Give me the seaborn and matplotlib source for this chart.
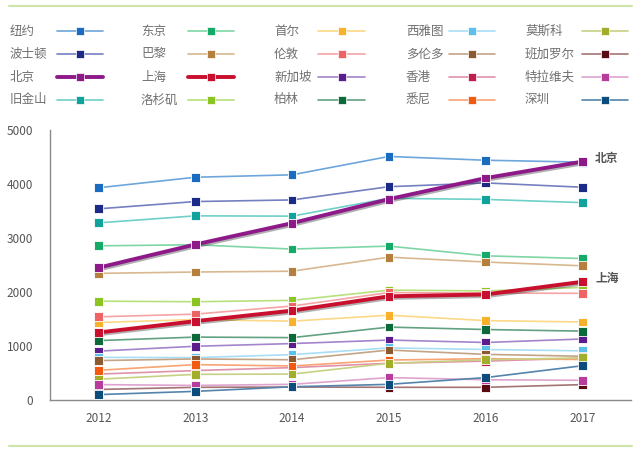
import numpy as np
import pandas as pd
import matplotlib
matplotlib.use("Agg")
import matplotlib.pyplot as plt
import seaborn as sns
from matplotlib.lines import Line2D
import matplotlib.patheffects as pe

years = ["2012", "2013", "2014", "2015", "2016", "2017"]

ny        = [3930, 4125, 4170, 4510, 4440, 4405]
boston    = [3540, 3675, 3705, 3950, 4020, 3940]
beijing   = [2450, 2880, 3275, 3720, 4110, 4415]
sf        = [3280, 3410, 3405, 3735, 3715, 3655]
tokyo     = [2855, 2875, 2795, 2850, 2670, 2620]
paris     = [2345, 2370, 2385, 2645, 2555, 2485]
shanghai  = [1250, 1460, 1655, 1920, 1955, 2190]
la        = [1830, 1820, 1845, 2035, 2020, 2085]
seoul     = [1435, 1490, 1460, 1570, 1470, 1445]
london    = [1540, 1590, 1740, 1990, 1980, 1975]
singapore = [905, 995, 1045, 1110, 1065, 1130]
berlin    = [1100, 1165, 1155, 1350, 1305, 1275]
seattle   = [790, 785, 840, 965, 935, 910]
toronto   = [730, 760, 745, 925, 845, 810]
hk        = [480, 545, 600, 680, 720, 775]
sydney    = [550, 655, 630, 740, 765, 750]
moscow    = [385, 475, 480, 680, 745, 780]
telaviv   = [285, 270, 290, 415, 375, 365]
bangalore = [195, 235, 240, 235, 235, 285]
shenzhen  = [100, 160, 245, 290, 415, 635]

# legend order: columns of four
cities = ["纽约", "波士顿", "北京", "旧金山",
          "东京", "巴黎", "上海", "洛杉矶",
          "首尔", "伦敦", "新加坡", "柏林",
          "西雅图", "多伦多", "香港", "悉尼",
          "莫斯科", "班加罗尔", "特拉维夫", "深圳"]
series = [ny, boston, beijing, sf,
          tokyo, paris, shanghai, la,
          seoul, london, singapore, berlin,
          seattle, toronto, hk, sydney,
          moscow, bangalore, telaviv, shenzhen]

marker_colors = {
    "纽约": "#1a6cc0", "波士顿": "#1c2a88", "北京": "#8e1a8a", "旧金山": "#12a29c",
    "东京": "#16aa68", "巴黎": "#b5803e", "上海": "#c8102e", "洛杉矶": "#8cc423",
    "首尔": "#f8b12c", "伦敦": "#ee6464", "新加坡": "#5c1c8c", "柏林": "#0c6a3a",
    "西雅图": "#5cc0ec", "多伦多": "#8c5a30", "香港": "#c01c4c", "悉尼": "#f25a12",
    "莫斯科": "#a2ae2a", "班加罗尔": "#5a0a12", "特拉维夫": "#b83c9c", "深圳": "#0c4c7c",
}
line_colors = {
    "纽约": "#6ea6dc", "波士顿": "#7480c0", "北京": "#8e1a8a", "旧金山": "#6ed0c8",
    "东京": "#7ed6a6", "巴黎": "#d8b890", "上海": "#c8102e", "洛杉矶": "#b8e07c",
    "首尔": "#fcd888", "伦敦": "#f6a4a4", "新加坡": "#a484cc", "柏林": "#62a282",
    "西雅图": "#a8def6", "多伦多": "#c4a486", "香港": "#e092aa", "悉尼": "#f8a474",
    "莫斯科": "#c8d084", "班加罗尔": "#a47474", "特拉维夫": "#dea4ce", "深圳": "#5484ac",
}
thick = ["北京", "上海"]

df = pd.DataFrame(
    [(c, i, v) for c, s in zip(cities, series) for i, v in enumerate(s)],
    columns=["city", "x", "value"],
)

sns.set_theme(style="white")
plt.rcParams["font.family"] = ["Noto Sans CJK SC", "DejaVu Sans"]

fig = plt.figure(figsize=(6.4, 4.5), dpi=100)
ax = fig.add_axes([50 / 640, 50 / 450, 581 / 640, 270 / 450])

thin_df = df[~df.city.isin(thick)]
thick_df = df[df.city.isin(thick)]

sns.lineplot(data=thin_df, x="x", y="value", hue="city", palette=line_colors,
             linewidth=1.2, legend=False, ax=ax, zorder=2)
sns.lineplot(data=thick_df, x="x", y="value", hue="city", palette=line_colors,
             linewidth=2.8, legend=False, ax=ax, zorder=4)
for ln in ax.lines[-2:]:
    ln.set_path_effects([pe.SimpleLineShadow(offset=(0.8, -1.2), alpha=0.35),
                         pe.Normal()])
sns.scatterplot(data=thin_df, x="x", y="value", hue="city", palette=marker_colors,
                marker="s", s=40, edgecolor="white", linewidth=0.6,
                legend=False, ax=ax, zorder=3)
sns.scatterplot(data=thick_df, x="x", y="value", hue="city", palette=marker_colors,
                marker="s", s=40, edgecolor="white", linewidth=0.6,
                legend=False, ax=ax, zorder=5)

ax.set_xlim(-0.5, 5.5)
ax.set_ylim(0, 5000)
ax.set_xticks(range(len(years)))
ax.set_xticklabels(years)
ax.set_xticks(np.arange(-0.5, 5.6, 1.0), minor=True)
ax.set_yticks(range(0, 5001, 1000))
ax.set_xlabel("")
ax.set_ylabel("")
for side in ["top", "right"]:
    ax.spines[side].set_visible(False)
for side in ["left", "bottom"]:
    ax.spines[side].set_color("#8a8a8a")
    ax.spines[side].set_linewidth(1.0)
ax.tick_params(axis="x", which="major", length=0, pad=9, labelsize=8.5, labelcolor="#555555")
ax.tick_params(axis="x", which="minor", direction="in", length=5, width=1, color="#8a8a8a")
ax.tick_params(axis="y", direction="in", length=6, width=1, color="#8a8a8a",
               pad=12, labelsize=8.5, labelcolor="#555555")
ax.grid(False)

# end labels
ax.annotate("北京", xy=(5, beijing[-1]), xytext=(9, 2), textcoords="offset points",
            fontsize=8.5, fontweight="bold", color="#555555", va="center")
ax.annotate("上海", xy=(5, shanghai[-1]), xytext=(9, 2), textcoords="offset points",
            fontsize=8.5, fontweight="bold", color="#555555", va="center")

# legend drawn in figure pixels
text_x = [10, 141, 274, 406, 525]
handle_x = [(57, 103), (188, 234), (318, 365), (449, 495), (582, 628)]
row_y = [31, 54, 77, 100]
H = 450.0
for k, city in enumerate(cities):
    col, row = divmod(k, 4)
    y = 1 - row_y[row] / H
    fig.text(text_x[col] / 640, y, city, fontsize=9, color="#707070", va="center", ha="left")
    x0, x1 = handle_x[col]
    lw = 2.8 if city in thick else 1.2
    fig.add_artist(Line2D([x0 / 640, x1 / 640], [y, y], color=line_colors[city], lw=lw,
                          transform=fig.transFigure))
    fig.add_artist(Line2D([(x0 + x1) / 2 / 640], [y], color=marker_colors[city], marker="s",
                          markersize=5.5, markeredgecolor="white", markeredgewidth=0.5,
                          linestyle="none", transform=fig.transFigure))

# decorative green rules
for yy in [5.5, 445.5]:
    fig.add_artist(Line2D([9 / 640, 632 / 640], [1 - yy / H, 1 - yy / H], color="#cfe4a8",
                          lw=1.5, transform=fig.transFigure))

fig.savefig("out.png", dpi=100)
